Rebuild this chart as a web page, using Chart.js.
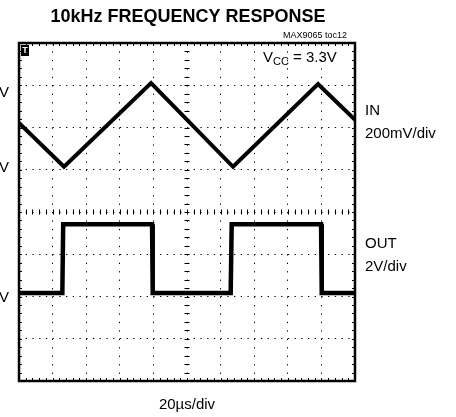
<!DOCTYPE html>
<html>
<head>
<meta charset="utf-8">
<script src="https://cdn.jsdelivr.net/npm/chart.js@4/dist/chart.umd.min.js"></script>
<style>
  html, body { margin: 0; padding: 0; background: #fff; }
</style>
</head>
<body>
<canvas id="scope" width="456" height="417"></canvas>
<script>
// time axis in microseconds (20us/div, 10 divisions)
const timeTicks = [0, 20, 40, 60, 80, 100, 120, 140, 160, 180, 200];
// vertical positions in screen divisions (-4..4)
const divTicks = [-4, -3, -2, -1, 0, 1, 2, 3, 4];

// IN trace: triangle, 200mV/div
const inTime = [0, 26.8, 78.6, 127.4, 178.0, 200];
const inDiv = [2.11, 1.07, 3.05, 1.07, 3.03, 2.18];

// OUT trace: square, 2V/div
const outTime = [0, 25.8, 26.3, 79.2, 79.6, 126.0, 126.6, 179.8, 180.2, 200];
const outDiv = [-1.92, -1.92, -0.29, -0.29, -1.92, -1.92, -0.29, -0.29, -1.92, -1.92];

const FONT = "'Liberation Sans', Arial, sans-serif";

function pairs(xs, ys) {
    return xs.map((x, i) => ({ x: x, y: ys[i] }));
}

const scopeDecor = {
    id: 'scopeDecor',
    beforeDatasetsDraw(chart) {
        const ctx = chart.ctx;
        const xs = chart.scales.x;
        const ys = chart.scales.y;
        const a = chart.chartArea;
        const cx = xs.getPixelForValue(100);
        const cy = ys.getPixelForValue(0);
        const xStep = (xs.getPixelForValue(20) - xs.getPixelForValue(0)) / 5;
        const yStep = (ys.getPixelForValue(0) - ys.getPixelForValue(1)) / 5;

        ctx.save();
        ctx.strokeStyle = '#000';
        ctx.lineWidth = 1;
        ctx.beginPath();
        // minor ticks on frame and cross ticks on the centre lines
        for (let k = 1; k < 50; k++) {
            const px = Math.round(a.left + k * xStep) + 0.5;
            ctx.moveTo(px, a.top); ctx.lineTo(px, a.top + 3);
            ctx.moveTo(px, a.bottom); ctx.lineTo(px, a.bottom - 3);
            ctx.moveTo(px, cy - 2.5); ctx.lineTo(px, cy + 2.5);
        }
        for (let k = 1; k < 40; k++) {
            const py = Math.round(a.top + k * yStep) + 0.5;
            ctx.moveTo(a.left, py); ctx.lineTo(a.left + 3, py);
            ctx.moveTo(a.right, py); ctx.lineTo(a.right - 3, py);
            ctx.moveTo(cx - 2.5, py); ctx.lineTo(cx + 2.5, py);
        }
        ctx.stroke();
        ctx.restore();
    },
    afterDatasetsDraw(chart) {
        const ctx = chart.ctx;
        const a = chart.chartArea;
        ctx.save();
        // frame
        ctx.strokeStyle = '#000';
        ctx.lineWidth = 2.5;
        ctx.strokeRect(a.left, a.top, a.right - a.left, a.bottom - a.top);

        // trigger marker
        ctx.fillStyle = '#000';
        ctx.fillRect(a.left + 2, a.top + 2, 8, 11);
        ctx.fillStyle = '#fff';
        ctx.font = 'bold 9px ' + FONT;
        ctx.textAlign = 'center';
        ctx.textBaseline = 'middle';
        ctx.fillText('T', a.left + 6, a.top + 8);

        ctx.fillStyle = '#000';
        ctx.textBaseline = 'alphabetic';

        // title
        ctx.font = 'bold 18px ' + FONT;
        ctx.textAlign = 'center';
        ctx.fillText('10kHz FREQUENCY RESPONSE', 188, 22);

        ctx.font = '9px ' + FONT;
        ctx.textAlign = 'right';
        ctx.fillText('MAX9065 toc12', 347, 38);

        // supply label
        ctx.textAlign = 'left';
        ctx.font = '15px ' + FONT;
        let x = 263;
        ctx.fillText('V', x, 62);
        x += ctx.measureText('V').width;
        ctx.font = '11px ' + FONT;
        ctx.fillText('CC', x, 65);
        x += ctx.measureText('CC').width;
        ctx.font = '15px ' + FONT;
        ctx.fillText(' = 3.3V', x, 62);

        // channel labels
        ctx.fillText('IN', 365, 115);
        ctx.fillText('200mV/div', 365, 138);
        ctx.fillText('OUT', 365, 248);
        ctx.fillText('2V/div', 365, 271);

        // clipped level markers on the left
        ctx.textAlign = 'right';
        ctx.fillText('0V', 9, 97);
        ctx.fillText('0V', 9, 172);
        ctx.fillText('0V', 9, 302);

        ctx.textAlign = 'center';
        ctx.fillText('20\u00b5s/div', 187, 409);
        ctx.restore();
    }
};

new Chart(document.getElementById('scope'), {
    type: 'line',
    data: {
        datasets: [{
            label: 'IN',
            data: pairs(inTime, inDiv),
            borderColor: '#000',
            borderWidth: 4,
            pointRadius: 0,
            tension: 0
        }, {
            label: 'OUT',
            data: pairs(outTime, outDiv),
            borderColor: '#000',
            borderWidth: 4.5,
            pointRadius: 0,
            tension: 0
        }]
    },
    options: {
        responsive: false,
        animation: false,
        layout: {
            padding: { left: 19, right: 101, top: 43, bottom: 36 }
        },
        scales: {
            x: {
                type: 'linear',
                min: timeTicks[0],
                max: timeTicks[timeTicks.length - 1],
                afterBuildTicks: (s) => { s.ticks = timeTicks.map(v => ({ value: v })); },
                afterFit: (s) => { s.height = 0; },
                ticks: { display: false },
                grid: { color: '#000', lineWidth: 1, drawTicks: false },
                border: { display: false, dash: [1.3, 7.15] }
            },
            y: {
                type: 'linear',
                min: divTicks[0],
                max: divTicks[divTicks.length - 1],
                afterBuildTicks: (s) => { s.ticks = divTicks.map(v => ({ value: v })); },
                afterFit: (s) => { s.width = 0; },
                ticks: { display: false },
                grid: { color: '#000', lineWidth: 1, drawTicks: false },
                border: { display: false, dash: [1.3, 5.42] }
            }
        },
        plugins: {
            legend: { display: false },
            tooltip: { enabled: false }
        }
    },
    plugins: [scopeDecor]
});
</script>
</body>
</html>
